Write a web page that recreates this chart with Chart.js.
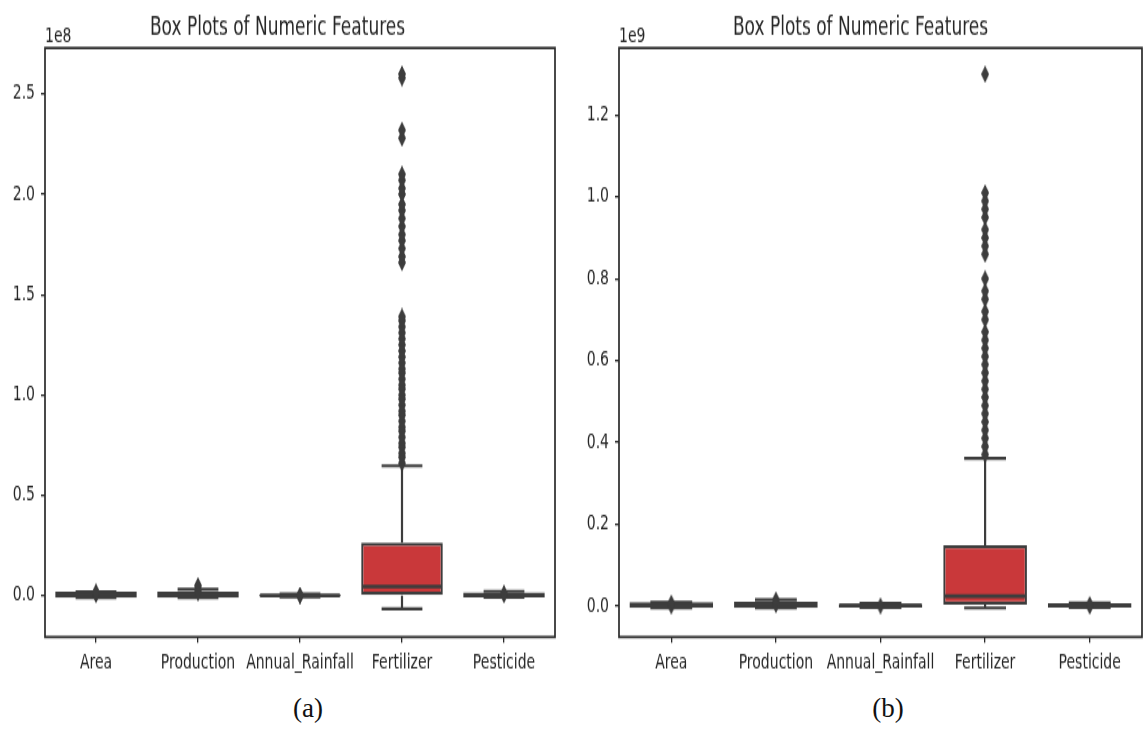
<!DOCTYPE html>
<html>
<head>
<meta charset="utf-8">
<script src="https://cdn.jsdelivr.net/npm/chart.js@4.4.1/dist/chart.umd.min.js"></script>
<style>
  body { margin: 0; background: #fff; width: 1148px; height: 729px; position: relative; overflow: hidden; }
  /* the source figure is stretched vertically, so each panel is drawn short and scaled up */
  .panel { position: absolute; top: 0; transform: scaleY(1.45); transform-origin: 0 0; }
  .caption { position: absolute; top: 693px; line-height: 30px; font-family: 'Liberation Serif', 'Times New Roman', serif; font-size: 27px; color: #111; transform: translateX(-50%); }
</style>
</head>
<body>
<canvas class="panel" id="chart_a" width="575" height="475" style="left:0px"></canvas>
<canvas class="panel" id="chart_b" width="573" height="475" style="left:575px"></canvas>
<div class="caption" style="left:308px">(a)</div>
<div class="caption" style="left:888px">(b)</div>
<script>
const categories = ['Area', 'Production', 'Annual_Rainfall', 'Fertilizer', 'Pesticide'];

// panel (a), values in units of 1e8
const q1A = [-0.010, -0.010, -0.006, 0.000, -0.008];
const medianA = [0.005, 0.005, 0.001, 0.045, 0.004];
const q3A = [0.020, 0.020, 0.008, 0.264, 0.016];
const whiskerLowA = [-0.010, -0.010, -0.006, -0.065, -0.008];
const whiskerHighA = [0.020, 0.032, 0.008, 0.647, 0.022];
const outliersA = [
    [0.005, 0.012, 0.018],
    [0.015, 0.030, 0.050],
    [0.000, 0.002],
    [0.66, 0.69, 0.71, 0.74, 0.76, 0.79, 0.82, 0.84, 0.87, 0.90, 0.92, 0.95, 0.98, 1.00,
     1.03, 1.05, 1.08, 1.11, 1.13, 1.16, 1.19, 1.22, 1.25, 1.28, 1.31, 1.34, 1.37, 1.39,
     1.66, 1.69, 1.73, 1.77, 1.80, 1.84, 1.88, 1.92, 1.95, 2.00, 2.03, 2.07, 2.10,
     2.28, 2.32, 2.58, 2.60],
    [0.004, 0.012]
];
const yTicksA = [0.0, 0.5, 1.0, 1.5, 2.0, 2.5];
const yRangeA = [-0.206, 2.729];

// panel (b), values in units of 1e9
const q1B = [-0.005, -0.005, -0.004, 0.003, -0.004];
const medianB = [0.001, 0.002, 0.001, 0.024, 0.001];
const q3B = [0.009, 0.010, 0.006, 0.148, 0.007];
const whiskerLowB = [-0.005, -0.005, -0.004, -0.005, -0.004];
const whiskerHighB = [0.009, 0.015, 0.006, 0.361, 0.007];
const outliersB = [
    [0.000, 0.007],
    [0.003, 0.015],
    [0.000],
    [0.37, 0.39, 0.41, 0.43, 0.45, 0.47, 0.49, 0.51, 0.53, 0.55, 0.57, 0.59, 0.61, 0.63,
     0.65, 0.67, 0.70, 0.72, 0.75, 0.77, 0.80, 0.86, 0.88, 0.90, 0.92, 0.95, 0.97, 0.99,
     1.01, 1.30],
    [0.000, 0.003]
];
const yTicksB = [0.0, 0.2, 0.4, 0.6, 0.8, 1.0, 1.2];
const yRangeB = [-0.076, 1.364];

const COLORS = {
    BOX: '#c9383a',
    LINE: '#3d3d3d',
    TEXT: '#262626',
    FRAME: '#2b2b2b'
};
const FONT = "'DejaVu Sans', 'Liberation Sans', sans-serif";
const CAP = 0.2;
const HALF_BOX = 0.39;

const makeDiamond = (w, h, color) => {
    var c = document.createElement('canvas');
    c.width = w;
    c.height = h;
    var g = c.getContext('2d');
    g.fillStyle = color;
    g.beginPath();
    g.moveTo(w / 2, 0);
    g.lineTo(w, h / 2);
    g.lineTo(w / 2, h);
    g.lineTo(0, h / 2);
    g.closePath();
    g.fill();
    return c;
};
const diamond = makeDiamond(8, 12, COLORS.LINE);

const whiskerPoints = (q1, q3, lo, hi) => {
    var pts = [];
    categories.forEach((c, i) => {
        pts.push({x: i, y: q1[i]}, {x: i, y: lo[i]}, {x: i, y: null});
        pts.push({x: i, y: q3[i]}, {x: i, y: hi[i]}, {x: i, y: null});
        pts.push({x: i - CAP, y: lo[i]}, {x: i + CAP, y: lo[i]}, {x: i, y: null});
        pts.push({x: i - CAP, y: hi[i]}, {x: i + CAP, y: hi[i]}, {x: i, y: null});
    });
    return pts;
};

const medianPoints = (median) => {
    var pts = [];
    categories.forEach((c, i) => {
        pts.push({x: i - HALF_BOX, y: median[i]}, {x: i + HALF_BOX, y: median[i]}, {x: i, y: null});
    });
    return pts;
};

const outlierPoints = (outliers) => {
    var pts = [];
    outliers.forEach((list, i) => list.forEach(v => pts.push({x: i, y: v})));
    return pts;
};

// spines all round plus the matplotlib offset text ("1e8") above the top-left corner
const framePlugin = {
    id: 'frame',
    afterDraw(chart, args, opts) {
        const {ctx, chartArea} = chart;
        ctx.save();
        ctx.strokeStyle = COLORS.FRAME;
        ctx.lineWidth = 1.7;
        ctx.strokeRect(chartArea.left, chartArea.top, chartArea.right - chartArea.left, chartArea.bottom - chartArea.top);
        ctx.fillStyle = COLORS.TEXT;
        ctx.font = `14px ${FONT}`;
        ctx.textAlign = 'left';
        ctx.textBaseline = 'alphabetic';
        ctx.fillText(opts.exp, chartArea.left, chartArea.top - 4);
        ctx.restore();
    }
};

const getBoxChartConfig = (p) => {
    return {
        type: 'bar',
        data: {
            labels: categories,
            datasets: [
                {
                    label: 'boxes',
                    xAxisID: 'x',
                    yAxisID: 'y',
                    data: categories.map((c, i) => [p.q1[i], p.q3[i]]),
                    backgroundColor: COLORS.BOX,
                    borderColor: COLORS.LINE,
                    borderWidth: 2.2,
                    borderSkipped: false,
                    grouped: false,
                    barPercentage: 0.8,
                    categoryPercentage: 1.0,
                    order: 2
                },
                {
                    type: 'line',
                    label: 'medians',
                    xAxisID: 'xl',
                    yAxisID: 'y',
                    data: medianPoints(p.median),
                    borderColor: COLORS.LINE,
                    borderWidth: 2.6,
                    pointRadius: 0,
                    spanGaps: false,
                    fill: false,
                    order: 1
                },
                {
                    type: 'line',
                    label: 'whiskers',
                    xAxisID: 'xl',
                    yAxisID: 'y',
                    data: whiskerPoints(p.q1, p.q3, p.lo, p.hi),
                    borderColor: COLORS.LINE,
                    borderWidth: 2.2,
                    pointRadius: 0,
                    spanGaps: false,
                    fill: false,
                    order: 3
                },
                {
                    type: 'line',
                    label: 'outliers',
                    xAxisID: 'xl',
                    yAxisID: 'y',
                    data: outlierPoints(p.outliers),
                    showLine: false,
                    pointStyle: diamond,
                    pointRadius: 5,
                    order: 0
                }
            ]
        },
        options: {
            responsive: false,
            animation: false,
            layout: {
                padding: {left: 0, right: p.padRight, top: 0, bottom: 0}
            },
            plugins: {
                legend: {display: false},
                tooltip: {enabled: false},
                title: {
                    display: true,
                    text: 'Box Plots of Numeric Features',
                    color: COLORS.TEXT,
                    font: {family: FONT, size: 17, weight: 'normal'},
                    padding: {top: 9.2, bottom: 3.5}
                },
                frame: {exp: p.exp}
            },
            scales: {
                x: {
                    type: 'category',
                    position: 'bottom',
                    offset: true,
                    border: {display: false},
                    grid: {drawOnChartArea: false, drawTicks: true, tickLength: 4, offset: false, color: COLORS.FRAME, lineWidth: 1.3},
                    ticks: {color: COLORS.TEXT, font: {family: FONT, size: 14}, padding: 6, maxRotation: 0, autoSkip: false},
                    afterFit: (s) => { s.height = 35.7; }
                },
                // same span as the category axis, used to place whiskers, caps and outliers
                xl: {
                    type: 'linear',
                    display: false,
                    offset: false,
                    min: -0.5,
                    max: 4.5
                },
                y: {
                    type: 'linear',
                    position: 'left',
                    min: p.range[0],
                    max: p.range[1],
                    border: {display: false},
                    grid: {drawOnChartArea: false, drawTicks: true, tickLength: 4, color: COLORS.FRAME, lineWidth: 1.3},
                    ticks: {
                        color: COLORS.TEXT,
                        font: {family: FONT, size: 14},
                        padding: 6,
                        callback: (value) => value.toFixed(1)
                    },
                    afterBuildTicks: (s) => { s.ticks = p.ticks.map(v => ({value: v})); },
                    afterFit: (s) => { s.width = p.axisWidth; }
                }
            }
        },
        plugins: [framePlugin]
    };
};

new Chart(document.getElementById('chart_a'), getBoxChartConfig({
    q1: q1A, median: medianA, q3: q3A, lo: whiskerLowA, hi: whiskerHighA,
    outliers: outliersA, ticks: yTicksA, range: yRangeA,
    exp: '1e8', axisWidth: 45, padRight: 20
}));
new Chart(document.getElementById('chart_b'), getBoxChartConfig({
    q1: q1B, median: medianB, q3: q3B, lo: whiskerLowB, hi: whiskerHighB,
    outliers: outliersB, ticks: yTicksB, range: yRangeB,
    exp: '1e9', axisWidth: 44, padRight: 2
}));
</script>
</body>
</html>
